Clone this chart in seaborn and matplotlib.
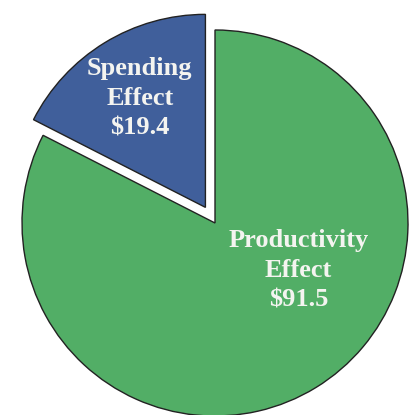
import matplotlib
matplotlib.use("Agg")
import matplotlib.pyplot as plt
import seaborn as sns

# data
labels = ["Spending\nEffect", "Productivity\nEffect"]
values = [19.4, 91.5]
colors = ["#405F9B", "#52AE66"]
explode = [0.095, 0.0]

sns.set_theme(style="white")
plt.rcParams["font.family"] = ["Liberation Serif", "DejaVu Serif"]

fig = plt.figure(figsize=(4.09, 4.15), dpi=100)
ax = fig.add_axes([0, 0, 1, 1])

ax.pie(values, colors=colors, explode=explode, startangle=90, counterclock=True,
       wedgeprops=dict(edgecolor="#222222", linewidth=1.0))

# label text (positions)
label_pos = [(-0.39, 0.645), (0.432, -0.245)]
for lab, val, (x, y) in zip(labels, values, label_pos):
    ax.text(x, y, f"{lab}\n${val:.1f}", ha="center", va="center", color="#F4F4F0",
            fontsize=19, fontweight="bold", linespacing=1.38)

# 193 px per unit, centre at (215, 223) px
r = 193.0
ax.set_xlim(-215 / r, (409 - 215) / r)
ax.set_ylim(-(415 - 223) / r, 223 / r)
ax.set_aspect("equal")
ax.axis("off")

fig.savefig("out.png", dpi=100)
